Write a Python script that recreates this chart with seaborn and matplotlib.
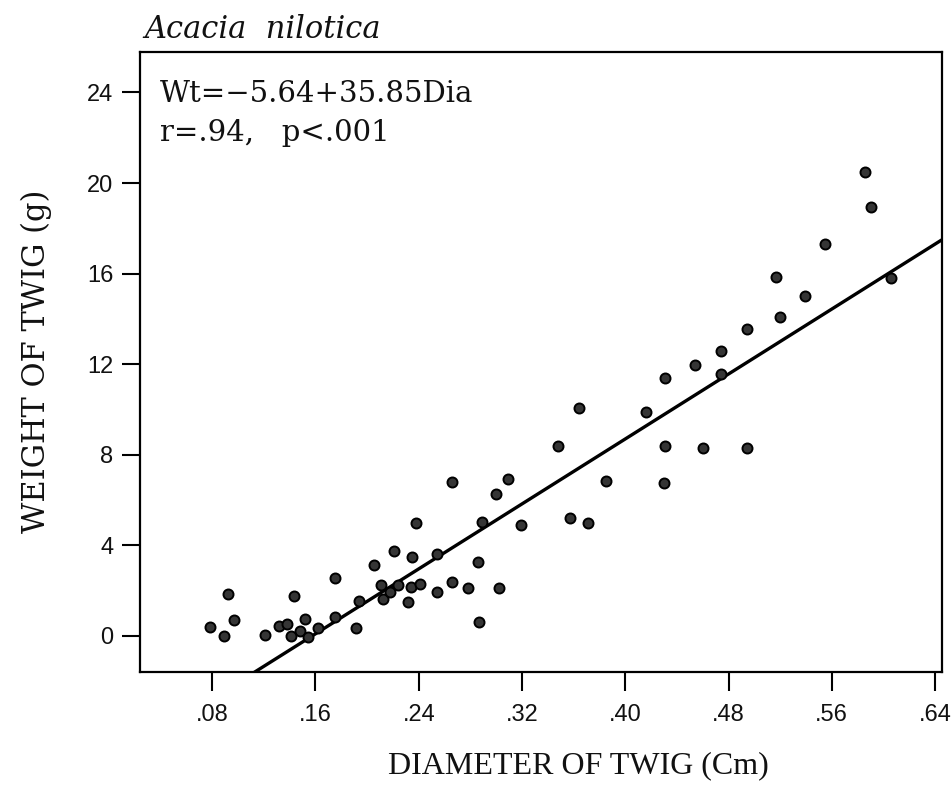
import numpy as np
import pandas as pd
import matplotlib
matplotlib.use("Agg")
import matplotlib.pyplot as plt
import seaborn as sns

# Twig diameter (cm) and twig weight (g) for Acacia nilotica
diameter = [0.078, 0.089, 0.092, 0.097, 0.121, 0.132, 0.138, 0.143, 0.141, 0.148,
            0.154, 0.152, 0.162, 0.175, 0.175, 0.191, 0.194, 0.205, 0.211, 0.212,
            0.218, 0.221, 0.224, 0.232, 0.234, 0.235, 0.238, 0.241, 0.254, 0.254,
            0.266, 0.266, 0.278, 0.286, 0.287, 0.289, 0.300, 0.302, 0.309, 0.319,
            0.348, 0.357, 0.364, 0.371, 0.385, 0.416, 0.430, 0.431, 0.431, 0.454,
            0.460, 0.474, 0.474, 0.494, 0.494, 0.517, 0.520, 0.539, 0.555, 0.586,
            0.590, 0.606]
weight = [0.40, 0.00, 1.85, 0.70, 0.05, 0.45, 0.55, 1.75, 0.00, 0.20,
          -0.05, 0.75, 0.35, 2.55, 0.85, 0.35, 1.55, 3.15, 2.25, 1.65,
          1.95, 3.75, 2.25, 1.50, 2.15, 3.50, 5.00, 2.30, 3.60, 1.95,
          2.40, 6.80, 2.10, 3.25, 0.60, 5.05, 6.25, 2.10, 6.95, 4.90,
          8.40, 5.20, 10.05, 5.00, 6.85, 9.90, 6.75, 8.40, 11.40, 11.95,
          8.30, 12.60, 11.55, 8.30, 13.55, 15.85, 14.10, 15.00, 17.30, 20.50,
          18.95, 15.80]

# Fitted regression: Wt = intercept + slope * Dia
intercept = -5.64
slope = 35.85
r_value = ".94"
p_value = ".001"

x_ticks = [0.08, 0.16, 0.24, 0.32, 0.40, 0.48, 0.56, 0.64]
x_tick_labels = [".08", ".16", ".24", ".32", ".40", ".48", ".56", ".64"]
y_ticks = [0, 4, 8, 12, 16, 20, 24]

df = pd.DataFrame({"diameter": diameter, "weight": weight})

sns.set_theme(style="white")
plt.rcParams["font.family"] = ["DejaVu Sans"]

fig = plt.figure(figsize=(9.52, 7.95), dpi=100)
ax = fig.add_axes([0.147, 0.155, 0.842, 0.78])

x_lim = (0.024, 0.645)
y_lim = (-1.58, 25.8)

# regression line across the plotting range (clipped by the axes)
line_x = np.linspace(x_lim[0], x_lim[1], 50)
line_df = pd.DataFrame({"diameter": line_x, "weight": intercept + slope * line_x})
sns.lineplot(data=line_df, x="diameter", y="weight", ax=ax, color="black",
             linewidth=2.4, zorder=2)

sns.scatterplot(data=df, x="diameter", y="weight", ax=ax, s=52,
                color="#353535", edgecolor="black", linewidth=1.4, zorder=3)

ax.set_xlim(*x_lim)
ax.set_ylim(*y_lim)

ax.set_xticks(x_ticks)
ax.set_xticklabels(x_tick_labels)
ax.set_yticks(y_ticks)
ax.set_yticklabels([str(v) for v in y_ticks])

for side in ["left", "bottom", "right", "top"]:
    ax.spines[side].set_visible(True)
    ax.spines[side].set_color("black")
    ax.spines[side].set_linewidth(1.6)

ax.tick_params(axis="x", direction="out", length=14, width=1.5, color="black",
               bottom=True, top=False, pad=9)
ax.tick_params(axis="y", direction="out", length=13, width=1.5, color="black",
               left=True, right=False, pad=6)
for lab in ax.get_xticklabels() + ax.get_yticklabels():
    lab.set_family(["Liberation Sans", "DejaVu Sans"])
    lab.set_fontsize(17)
    lab.set_color("#111111")

ax.set_xlabel("DIAMETER OF TWIG (Cm)", family=["Liberation Serif", "DejaVu Serif"],
              fontsize=23, color="#111111")
ax.xaxis.set_label_coords(0.547, -0.128)
ax.set_ylabel("WEIGHT OF TWIG (g)", family=["DejaVu Serif"],
              fontsize=22, color="#111111")
ax.yaxis.set_label_coords(-0.11, 0.5)

ax.text(0.025, 0.955, f"Wt={intercept:.2f}+{slope:.2f}Dia".replace("-", "\u2212"),
        transform=ax.transAxes, ha="left", va="top",
        family=["DejaVu Serif"], fontsize=21, color="#111111")
ax.text(0.025, 0.891, f"r={r_value},   p<{p_value}",
        transform=ax.transAxes, ha="left", va="top",
        family=["DejaVu Serif"], fontsize=21, color="#111111")

fig.text(0.152, 0.963, "Acacia  nilotica", ha="left", va="center",
         family=["DejaVu Serif"], style="italic", fontsize=22, color="#111111")

fig.savefig("out.png", dpi=100, facecolor="white")
